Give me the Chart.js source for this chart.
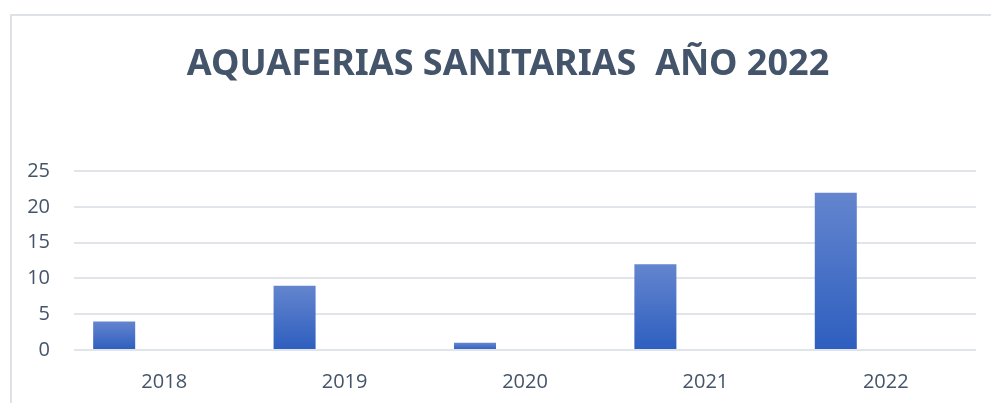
<!DOCTYPE html>
<html>
<head>
<meta charset="utf-8">
<script src="https://cdn.jsdelivr.net/npm/chart.js@4/dist/chart.umd.min.js"></script>
<style>
  html, body { margin: 0; background: #fff; overflow: hidden; width: 991px; height: 403px; }
  #frame { position: absolute; left: 10px; top: 14px; width: 979px; height: 387px;
           border-left: 2px solid #DEE2E7; border-top: 2px solid #DEE2E7; }
  #wrap { position: absolute; left: 0; top: 0; width: 991px; height: 403px; }
</style>
</head>
<body>
<div id="frame"></div>
<div id="wrap"><canvas id="myChart"></canvas></div>
<script>
const years = ['2018', '2019', '2020', '2021', '2022'];
const ferias = [4, 9, 1, 12, 22];
const empty = [null, null, null, null, null];
const yTicks = [0, 5, 10, 15, 20, 25];

const slate = '#44546A';

// each bar gets its own light-top / dark-bottom gradient
function barFill(context) {
    const chart = context.chart;
    if (!chart.chartArea || context.raw == null) return '#4472C4';
    const y = chart.scales.y;
    const g = chart.ctx.createLinearGradient(0, y.getPixelForValue(context.raw), 0, y.getPixelForValue(0));
    g.addColorStop(0, '#6485CE');
    g.addColorStop(1, '#2D5EBF');
    return g;
}

// title in the original sits a bit right of the canvas centre
const titleShift = {
    id: 'titleShift',
    afterLayout(chart) {
        chart.titleBlock.left += 25;
    }
};

const ctx = document.getElementById('myChart').getContext('2d');
const chart = new Chart(ctx, {
    type: 'bar',
    data: {
        labels: years,
        datasets: [
            { label: 'Aquaferias', data: ferias, backgroundColor: barFill },
            { label: '', data: empty }
        ]
    },
    options: {
        responsive: true,
        maintainAspectRatio: false,
        animation: false,
        categoryPercentage: 1.109,
        barPercentage: 0.42,
        layout: { padding: { left: 15, right: 15, top: 0, bottom: -11 } },
        plugins: {
            legend: { display: false },
            tooltip: { enabled: false },
            title: {
                display: true,
                text: 'AQUAFERIAS SANITARIAS  AÑO 2022',
                color: slate,
                font: { family: "'Noto Sans'", size: 36, weight: 'bold', lineHeight: 1.2 },
                padding: { top: 43, bottom: 85 }
            }
        },
        scales: {
            x: {
                grid: { display: false, drawTicks: false },
                border: { display: false },
                ticks: { color: slate, padding: 20, minRotation: 0, maxRotation: 0,
                         font: { family: "'Open Sans'", size: 20 } }
            },
            y: {
                min: 0,
                max: 25,
                afterFit: s => { s.width = 59; },
                afterBuildTicks: s => { s.ticks = yTicks.map(v => ({ value: v })); },
                grid: { color: '#E1E4E8', lineWidth: 2, drawTicks: false },
                border: { display: false },
                ticks: { color: slate, padding: 24, font: { family: "'Open Sans'", size: 20 } }
            }
        }
    },
    plugins: [titleShift]
});
</script>
</body>
</html>
